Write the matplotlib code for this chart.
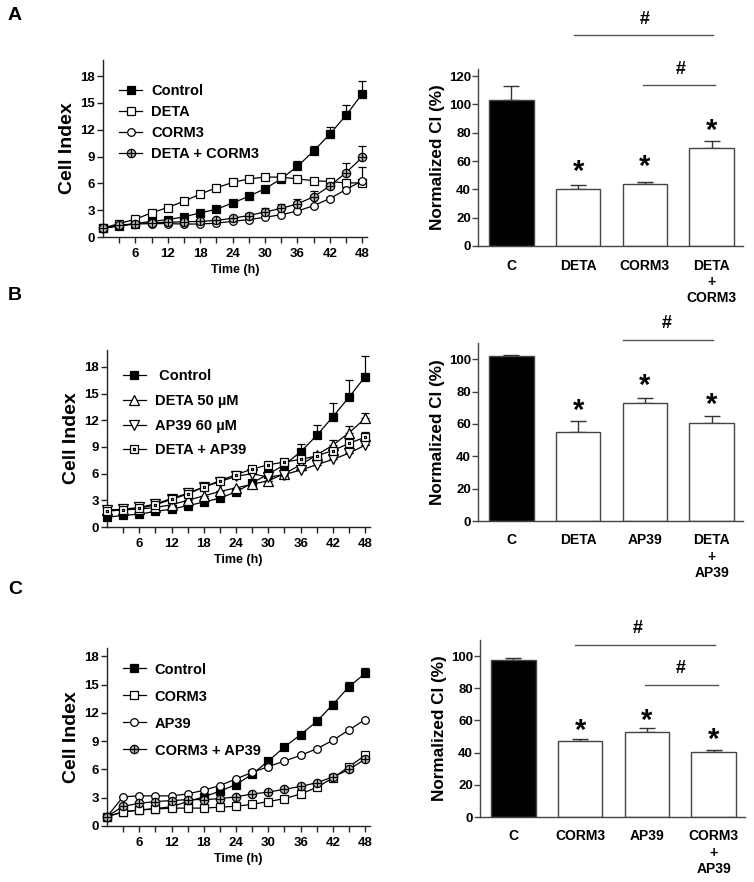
import numpy as np
import matplotlib
matplotlib.use('Agg')
import matplotlib.pyplot as plt
from matplotlib.path import Path

plt.rcParams['font.family'] = ['Liberation Sans', 'DejaVu Sans']
plt.rcParams['font.weight'] = 'bold'
plt.rcParams['axes.labelweight'] = 'bold'

time_h = [0, 3, 6, 9, 12, 15, 18, 21, 24, 27, 30, 33, 36, 39, 42, 45, 48]

# ---------- Panel A (line) ----------
a_labels = ['Control', 'DETA', 'CORM3', 'DETA + CORM3']
a_control = [1.0, 1.2, 1.5, 1.75, 1.95, 2.25, 2.7, 3.1, 3.8, 4.55, 5.4, 6.5, 7.9, 9.6, 11.5, 13.6, 16.0]
a_control_err = [0, 0, 0, 0, 0, 0, 0, 0, 0, 0.1, 0.2, 0.3, 0.6, 0.6, 0.8, 1.2, 1.4]
a_deta = [1.0, 1.5, 2.0, 2.7, 3.3, 4.0, 4.8, 5.5, 6.1, 6.5, 6.7, 6.7, 6.5, 6.3, 6.2, 6.05, 6.05]
a_deta_err = [0, 0, 0, 0, 0, 0, 0, 0, 0, 0, 0, 0, 0, 0, 0, 0.3, 0.2]
a_corm3 = [1.0, 1.3, 1.45, 1.5, 1.5, 1.45, 1.45, 1.55, 1.75, 1.95, 2.2, 2.5, 2.9, 3.5, 4.3, 5.3, 6.3]
a_corm3_err = [0, 0, 0, 0, 0, 0, 0, 0, 0, 0, 0, 0, 0, 0, 0.2, 0.3, 1.5]
a_combo = [1.0, 1.3, 1.5, 1.6, 1.65, 1.7, 1.75, 1.85, 2.1, 2.4, 2.8, 3.2, 3.7, 4.5, 5.7, 7.2, 8.9]
a_combo_err = [0, 0, 0, 0, 0, 0, 0, 0, 0, 0.3, 0.4, 0.5, 0.6, 0.7, 0.6, 1.1, 1.3]

# ---------- Panel B (line) ----------
b_labels = [' Control', 'DETA 50 \u00b5M', 'AP39 60 \u00b5M', 'DETA + AP39']
b_control = [1.1, 1.3, 1.45, 1.75, 2.0, 2.4, 2.8, 3.25, 3.95, 4.95, 5.95, 7.0, 8.45, 10.3, 12.4, 14.6, 16.9]
b_control_err = [0, 0, 0, 0, 0, 0, 0, 0, 0, 0, 0, 0.5, 0.9, 1.2, 1.5, 1.9, 2.3]
b_deta = [1.9, 1.95, 2.0, 2.2, 2.5, 3.0, 3.5, 4.0, 4.4, 4.8, 5.2, 6.0, 7.0, 8.1, 9.2, 10.6, 12.2]
b_deta_err = [0, 0, 0, 0, 0, 0, 0, 0, 0, 0, 0, 0, 0, 0, 0.6, 0.7, 0.6]
b_ap39 = [1.9, 2.0, 2.2, 2.6, 3.2, 3.8, 4.5, 5.1, 5.7, 6.0, 5.6, 5.9, 6.4, 7.0, 7.6, 8.3, 9.2]
b_ap39_err = [0, 0, 0, 0, 0, 0, 0, 0, 0, 0, 0, 0, 0, 0, 0, 0, 0]
b_combo = [1.8, 1.9, 2.1, 2.5, 3.1, 3.7, 4.5, 5.2, 5.9, 6.5, 7.0, 7.3, 7.6, 8.0, 8.6, 9.4, 10.1]
b_combo_err = [0, 0, 0, 0, 0, 0, 0, 0, 0, 0, 0, 0, 0, 0, 0.4, 0.5, 0.6]

# ---------- Panel C (line) ----------
c_labels = ['Control', 'CORM3', 'AP39', 'CORM3 + AP39']
c_control = [1.0, 1.5, 1.7, 1.85, 2.05, 2.6, 3.1, 3.7, 4.4, 5.5, 6.9, 8.4, 9.7, 11.1, 12.9, 14.8, 16.2]
c_control_err = [0, 0, 0, 0, 0, 0, 0, 0, 0, 0, 0, 0, 0, 0, 0.4, 0.5, 0.6]
c_corm3 = [1.0, 1.5, 1.7, 1.8, 1.9, 1.9, 1.9, 2.0, 2.1, 2.3, 2.6, 2.9, 3.4, 4.1, 5.1, 6.3, 7.5]
c_corm3_err = [0] * 17
c_ap39 = [1.0, 3.1, 3.2, 3.2, 3.2, 3.4, 3.8, 4.3, 5.0, 5.7, 6.3, 6.9, 7.5, 8.2, 9.1, 10.2, 11.3]
c_ap39_err = [0] * 17
c_combo = [1.0, 2.1, 2.4, 2.6, 2.7, 2.8, 2.8, 2.9, 3.1, 3.4, 3.6, 3.9, 4.2, 4.6, 5.2, 6.0, 7.1]
c_combo_err = [0] * 17

# ---------- Bar data ----------
bar_a_cats = ['C', 'DETA', 'CORM3', 'DETA\n+\nCORM3']
bar_a_vals = [103, 40, 44, 69]
bar_a_err = [10, 3, 1.3, 5]
bar_b_cats = ['C', 'DETA', 'AP39', 'DETA\n+\nAP39']
bar_b_vals = [102, 55, 73, 60.5]
bar_b_err = [0.6, 6.5, 3, 4.5]
bar_c_cats = ['C', 'CORM3', 'AP39', 'CORM3\n+\nAP39']
bar_c_vals = [97.5, 47, 53, 40.5]
bar_c_err = [1.5, 1.2, 2.2, 1.0]

W, H = 754, 882
fig = plt.figure(figsize=(W / 100, H / 100), dpi=100)


def px_axes(l, t, r, b):
    return fig.add_axes([l / W, 1 - b / H, (r - l) / W, (b - t) / H])


# custom markers
circ = Path.unit_circle()
plus = Path([(-1, 0), (1, 0), (0, -1), (0, 1)],
            [Path.MOVETO, Path.LINETO, Path.MOVETO, Path.LINETO])
circ_plus = Path.make_compound_path(circ, plus)
sq = Path([(-1, -1), (1, -1), (1, 1), (-1, 1), (-1, -1)],
          [Path.MOVETO, Path.LINETO, Path.LINETO, Path.LINETO, Path.CLOSEPOLY])
dot = Path([(-0.2, -0.2), (0.2, -0.2), (0.2, 0.2), (-0.2, 0.2), (-0.2, -0.2)],
           [Path.MOVETO, Path.LINETO, Path.LINETO, Path.LINETO, Path.CLOSEPOLY])
sq_dot = Path.make_compound_path(sq, dot)

STY = {
    'fsq': dict(marker='s', mfc='black', mec='black', ms=5.5),
    'osq': dict(marker='s', mfc='white', mec='black', ms=6),
    'oci': dict(marker='o', mfc='white', mec='black', ms=5.5),
    'cpl': dict(marker=circ_plus, mfc='#bbbbbb', mec='black', ms=6),
    'tup': dict(marker='^', mfc='white', mec='black', ms=6.5),
    'tdn': dict(marker='v', mfc='white', mec='black', ms=6.5),
    'sqd': dict(marker=sq_dot, mfc='white', mec='black', ms=6),
}


def line_panel(rect, series, ymax, leg_anchor, leg_spacing):
    ax = px_axes(*rect)
    handles = []
    for vals, errs, label, sty in series:
        lower = np.zeros(len(errs))
        ax.errorbar(time_h, vals, yerr=[lower, errs], fmt='none', ecolor='black',
                    elinewidth=0.9, capsize=3, capthick=0.9, zorder=2, clip_on=False)
        h, = ax.plot(time_h, vals, color='black', lw=0.9, mew=0.9, zorder=3,
                     clip_on=False, label=label, **STY[sty])
        handles.append(h)
    ax.set_xlim(0, 48.9)
    ax.set_ylim(0, ymax)
    ax.set_xticks(range(6, 49, 6))
    ax.set_xticks(range(3, 49, 3), minor=True)
    ax.set_yticks(range(0, 19, 3))
    for s in ['top', 'right']:
        ax.spines[s].set_visible(False)
    for s in ['left', 'bottom']:
        ax.spines[s].set_linewidth(1.0)
        ax.spines[s].set_color('#222222')
    ax.tick_params(axis='both', which='both', direction='out', length=4, width=1.0,
                   colors='#222222', labelsize=9.5, labelcolor='black', pad=2)
    ax.tick_params(axis='x', which='both', pad=4)
    for t in ax.get_xticklabels() + ax.get_yticklabels():
        t.set_fontweight('bold')
    ax.set_xlabel('Time (h)', fontsize=9, fontweight='bold', labelpad=3)
    ax.set_ylabel('Cell Index', fontsize=14, fontweight='bold', labelpad=3)
    ax.legend(handles=handles, loc='upper left', bbox_to_anchor=leg_anchor,
              frameon=False, handlelength=1.6, handletextpad=0.6,
              labelspacing=leg_spacing, borderpad=0, borderaxespad=0,
              prop={'weight': 'bold', 'size': 10.5})
    return ax


def bar_panel(rect, cats, vals, errs, ymax, yticks, stars, sig):
    ax = px_axes(*rect)
    x = np.arange(len(cats))
    colors = ['black'] + ['white'] * (len(cats) - 1)
    ax.bar(x, vals, width=0.67, color=colors, edgecolor='#444444', linewidth=1.0, zorder=2)
    ax.errorbar(x, vals, yerr=[np.zeros(len(errs)), errs], fmt='none', ecolor='#333333',
                elinewidth=1.0, capsize=6, capthick=1.0, zorder=1)
    ax.set_xlim(-0.5, 3.47)
    ax.set_ylim(0, ymax)
    ax.set_yticks(yticks)
    ax.set_xticks(x)
    ax.set_xticklabels(cats, fontsize=10, fontweight='bold', linespacing=1.2)
    for s in ['top', 'right']:
        ax.spines[s].set_visible(False)
    for s in ['left', 'bottom']:
        ax.spines[s].set_linewidth(1.0)
        ax.spines[s].set_color('#444444')
    ax.tick_params(axis='y', direction='out', length=4, width=1.0, colors='#444444',
                   labelsize=9.5, labelcolor='black', pad=1)
    ax.tick_params(axis='x', length=0, pad=9)
    for t in ax.get_yticklabels():
        t.set_fontweight('bold')
    ax.set_ylabel('Normalized CI (%)', fontsize=12.3, fontweight='bold', labelpad=3)
    for xi, ys in stars:
        ax.annotate('*', xy=(xi, ys), xytext=(0, -12), textcoords='offset points',
                    ha='center', va='baseline', fontsize=21, fontweight='bold',
                    annotation_clip=False)
    for x1, x2, yl, xh, yh in sig:
        ax.plot([x1, x2], [yl, yl], color='#555555', lw=1.0, clip_on=False)
        ax.text(xh, yh, '#', ha='center', va='center', fontsize=13, fontweight='bold',
                clip_on=False)
    return ax


# Panel A
line_panel((103, 60, 367, 237),
           [(a_control, a_control_err, a_labels[0], 'fsq'),
            (a_deta, a_deta_err, a_labels[1], 'osq'),
            (a_corm3, a_corm3_err, a_labels[2], 'oci'),
            (a_combo, a_combo_err, a_labels[3], 'cpl')],
           19.8, (0.06, 0.863), 0.48)
bar_panel((478, 69, 743, 246), bar_a_cats, bar_a_vals, bar_a_err, 125,
          range(0, 121, 20),
          [(1, 58.6), (2, 62), (3, 87.5)],
          [(0.94, 3.02, 149, 1.99, 160), (1.97, 3.05, 114, 2.53, 125)])

# Panel B
line_panel((107, 350, 370, 527),
           [(b_control, b_control_err, b_labels[0], 'fsq'),
            (b_deta, b_deta_err, b_labels[1], 'tup'),
            (b_ap39, b_ap39_err, b_labels[2], 'tdn'),
            (b_combo, b_combo_err, b_labels[3], 'sqd')],
           19.9, (0.06, 0.892), 0.74)
bar_panel((478, 343, 743, 521), bar_b_cats, bar_b_vals, bar_b_err, 110,
          range(0, 101, 20),
          [(1, 73.5), (2, 89), (3, 77)],
          [(1.67, 3.02, 112, 2.33, 122)])

# Panel C
line_panel((107, 648, 370, 826),
           [(c_control, c_control_err, c_labels[0], 'fsq'),
            (c_corm3, c_corm3_err, c_labels[1], 'osq'),
            (c_ap39, c_ap39_err, c_labels[2], 'oci'),
            (c_combo, c_combo_err, c_labels[3], 'cpl')],
           18.9, (0.06, 0.918), 0.89)
bar_panel((480, 640, 745, 817), bar_c_cats, bar_c_vals, bar_c_err, 110,
          range(0, 101, 20),
          [(1, 59), (2, 65), (3, 53)],
          [(0.93, 3.02, 107, 1.86, 117), (1.97, 3.06, 82, 2.50, 92.5)])

# panel letters
for letter, ypx in [('A', 16), ('B', 295), ('C', 590)]:
    fig.text(15 / W, 1 - ypx / H, letter, fontsize=14, fontweight='bold',
             ha='center', va='center')

fig.savefig('out.png', dpi=100)
